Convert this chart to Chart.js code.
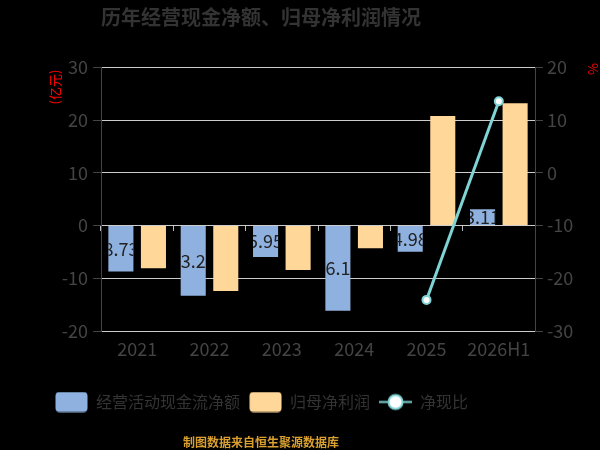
<!DOCTYPE html>
<html><head><meta charset="utf-8">
<script src="https://cdn.jsdelivr.net/npm/chart.js@4.4.0/dist/chart.umd.min.js"></script>
<style>html,body{margin:0;padding:0;background:#000;}#wrap{width:600px;height:450px;position:relative;}</style>
</head><body><div id="wrap"><canvas id="c" width="600" height="450"></canvas></div>
<script>
const categories = ['2021', '2022', '2023', '2024', '2025', '2026H1'];
const operatingCashFlow = [-8.73, -13.29, -5.95, -16.15, -4.98, 3.11];
const netProfit = [-8.1, -12.4, -8.42, -4.3, 20.8, 23.2];
const cashRatio = [null, null, null, null, -24.1, 13.6];
const leftAxisTicks = [-20, -10, 0, 10, 20, 30];
const rightAxisTicks = [-30, -20, -10, 0, 10, 20];
const seriesNames = ['经营活动现金流净额', '归母净利润', '净现比'];
const titleText = '历年经营现金净额、归母净利润情况';
const footerText = '制图数据来自恒生聚源数据库';
const leftUnit = '(亿元)';
const rightUnit = '%';

const FONT = "'Noto Sans CJK SC', 'Noto Sans', sans-serif";
const BLUE = '#8FB1DF';
const ORANGE = '#FFD899';
const TEAL = '#7FD4D6';

function makeBoxIcon(color) {
  const c = document.createElement('canvas');
  c.width = 33; c.height = 21;
  const g = c.getContext('2d');
  g.fillStyle = color;
  g.beginPath();
  g.roundRect(0.5, 0.5, 32, 20, 4);
  g.fill();
  return c;
}
function makeLineIcon() {
  const c = document.createElement('canvas');
  c.width = 33; c.height = 21;
  const g = c.getContext('2d');
  g.strokeStyle = TEAL; g.lineWidth = 2;
  g.beginPath(); g.moveTo(0, 10.5); g.lineTo(33, 10.5); g.stroke();
  g.fillStyle = '#fff';
  g.beginPath(); g.arc(16.5, 10.5, 7, 0, Math.PI * 2); g.fill(); g.stroke();
  return c;
}
const icons = [makeBoxIcon(BLUE), makeBoxIcon(ORANGE), makeLineIcon()];

const overlay = {
  id: 'overlay',
  afterDatasetsDraw(chart) {
    const ctx = chart.ctx;
    const meta = chart.getDatasetMeta(0);
    ctx.save();
    ctx.font = '18px ' + FONT;
    ctx.fillStyle = '#222';
    ctx.textAlign = 'center';
    ctx.textBaseline = 'middle';
    meta.data.forEach((bar, i) => {
      const p = bar.getProps(['x', 'y', 'base', 'width'], true);
      const top = Math.min(p.y, p.base), h = Math.abs(p.y - p.base);
      ctx.save();
      ctx.beginPath();
      ctx.rect(p.x - p.width / 2, top, p.width, h);
      ctx.clip();
      ctx.fillText(Math.abs(operatingCashFlow[i]).toFixed(2), p.x, (p.y + p.base) / 2);
      ctx.restore();
    });
    ctx.restore();
  },
  afterDraw(chart) {
    const ctx = chart.ctx;
    ctx.save();
    ctx.textAlign = 'center';
    ctx.textBaseline = 'middle';
    ctx.fillStyle = '#333';
    ctx.font = 'bold 20px ' + FONT;
    ctx.fillText(titleText, 261, 17);
    ctx.fillStyle = '#D9A030';
    ctx.font = 'bold 12px ' + FONT;
    ctx.fillText(footerText, 261, 442);
    ctx.fillStyle = '#FF0000';
    ctx.font = '13px ' + FONT;
    ctx.save();
    ctx.translate(55, 87);
    ctx.rotate(-Math.PI / 2);
    ctx.fillText(leftUnit, 0, 0);
    ctx.restore();
    ctx.save();
    ctx.translate(593, 69);
    ctx.rotate(-Math.PI / 2);
    ctx.fillText(rightUnit, 0, 0);
    ctx.restore();
    ctx.restore();
  }
};

new Chart(document.getElementById('c'), {
  type: 'bar',
  data: {
    labels: categories,
    datasets: [
      { label: seriesNames[0], data: operatingCashFlow, backgroundColor: BLUE, yAxisID: 'y', xAxisID: 'x',
        categoryPercentage: 0.9, barPercentage: 0.77 },
      { label: seriesNames[1], data: netProfit, backgroundColor: ORANGE, yAxisID: 'y', xAxisID: 'x',
        categoryPercentage: 0.9, barPercentage: 0.77 },
      { type: 'line', label: seriesNames[2], data: cashRatio, yAxisID: 'y1', xAxisID: 'x', order: -1,
        borderColor: TEAL, borderWidth: 3, backgroundColor: '#fff',
        pointRadius: 4, pointBorderWidth: 2, pointBackgroundColor: '#fff', pointBorderColor: TEAL,
        spanGaps: false }
    ]
  },
  options: {
    responsive: false,
    animation: false,
    devicePixelRatio: 1,
    layout: { padding: { top: 67.5, left: 46, right: 0, bottom: 30 } },
    plugins: {
      title: { display: false },
      tooltip: { enabled: false },
      legend: {
        position: 'bottom',
        align: 'start',
        labels: {
          usePointStyle: true,
          pointStyleWidth: 33,
          boxHeight: 16,
          padding: 9,
          color: '#333',
          font: { size: 16, family: FONT },
          generateLabels: () => seriesNames.map((n, i) => ({
            text: n, pointStyle: icons[i], fillStyle: 'transparent', strokeStyle: 'transparent',
            lineWidth: 0, hidden: false, datasetIndex: i, fontColor: '#333'
          }))
        }
      }
    },
    scales: {
      x: {
        type: 'category',
        position: 'bottom',
        offset: true,
        grid: { display: false, drawTicks: false },
        border: { display: false },
        ticks: { color: '#444', font: { size: 18, family: FONT }, padding: 7 },
        afterFit: s => { s.height = 54; }
      },
      x0: {
        type: 'category',
        position: { y: 0 },
        offset: true,
        grid: { offset: true, drawOnChartArea: false, drawTicks: true, tickLength: 5, color: '#bbb', tickColor: '#bbb' },
        border: { display: true, color: '#ccc' },
        ticks: { display: false }
      },
      y: {
        position: 'left',
        min: leftAxisTicks[0], max: leftAxisTicks[leftAxisTicks.length - 1],
        afterBuildTicks: s => { s.ticks = leftAxisTicks.map(v => ({ value: v })); },
        grid: { color: '#ccc', tickColor: '#444', tickLength: 8, drawTicks: true },
        border: { display: true, color: '#444' },
        ticks: { color: '#444', font: { size: 18, family: FONT }, padding: 5 },
        afterFit: s => { s.width = 55; }
      },
      y1: {
        position: 'right',
        min: rightAxisTicks[0], max: rightAxisTicks[rightAxisTicks.length - 1],
        afterBuildTicks: s => { s.ticks = rightAxisTicks.map(v => ({ value: v })); },
        grid: { drawOnChartArea: false, tickColor: '#444', tickLength: 8, drawTicks: true },
        border: { display: true, color: '#444' },
        ticks: { color: '#444', font: { size: 18, family: FONT }, padding: 4 },
        afterFit: s => { s.width = 65; }
      }
    }
  },
  plugins: [overlay]
});
</script>
</body></html>
